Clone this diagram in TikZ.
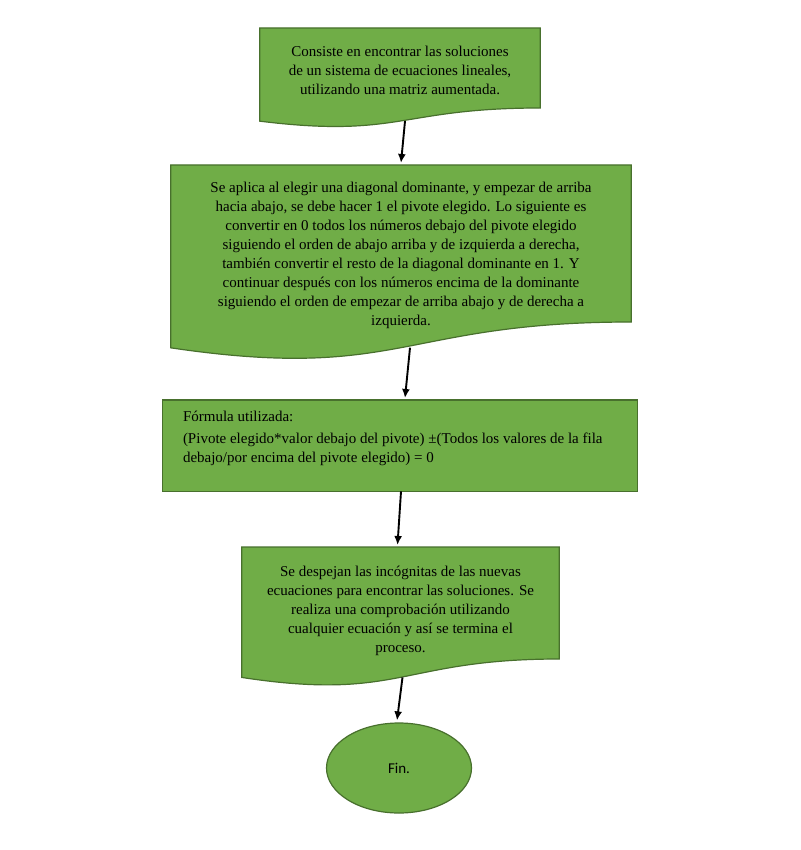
\documentclass[tikz,border=0pt]{standalone}
\usepackage{fontspec}
\setmainfont{Liberation Serif}
\newfontfamily\finfont{Carlito}
\usepackage{tikz}
\usetikzlibrary{calc}
\usetikzlibrary{arrows.meta,shapes.geometric}
\usetikzlibrary{backgrounds}
\definecolor{g}{RGB}{112,173,71}
\definecolor{d}{RGB}{72,112,45}
\tikzstyle{box}=[draw=none,align=center,anchor=north,font=\fontsize{15}{19}\selectfont]
\tikzstyle{frame}=[fill=g,draw=d,line width=1.2pt]
\tikzstyle{flow}=[->,line width=1.9pt]
% document shape: straight part of height #2, wavy bottom
\newcommand{\wavebox}[2]{%
	\path[frame] (#1.north west) -- (#1.north east) -- ($(#1.north east)+(0,#2)$)
		.. controls ($(#1.north)+(0,#2)$) and ($(#1.north)+(0,1.381*#2)$)
		.. ($(#1.north west)+(0,1.1646*#2)$) -- cycle;
	\coordinate (#1-w) at ($(#1.north)+(0,1.1636*#2)$);}

\begin{document}
\begin{tikzpicture}[x=1pt,y=-1pt,>={Latex[length=9pt,width=8pt]}]
	\path[use as bounding box] (0,0) rectangle (800,850);

	\node[box,minimum width=280pt,minimum height=84pt] (b1) at (400,28)
		{Consiste en encontrar las soluciones\\de un sistema de ecuaciones lineales,\\utilizando una matriz aumentada.};
	\node[box,minimum width=460pt,minimum height=180pt] (b2) at (401,165)
		{Se aplica al elegir una diagonal dominante, y empezar de arriba\\
		hacia abajo, se debe hacer 1 el pivote elegido. Lo siguiente es\\
		convertir en 0 todos los números debajo del pivote elegido\\
		siguiendo el orden de abajo arriba y de izquierda a derecha,\\
		también convertir el resto de la diagonal dominante en 1. Y\\
		continuar después con los números encima de la dominante\\
		siguiendo el orden de empezar de arriba abajo y de derecha a\\
		izquierda.};
	\node[box,inner xsep=20pt,inner ysep=11pt,align=left] (b3) at (400,400)
		{\parbox[t][69pt][t]{434pt}{\raggedright Fórmula utilizada:\par\vspace{3pt}
		(Pivote elegido*valor debajo del pivote) ±(Todos los valores de la fila\newline
		debajo/por encima del pivote elegido) = 0}};
	\node[box,minimum width=317pt,minimum height=128pt] (b4) at (400.5,547)
		{Se despejan las incógnitas de las nuevas\\ecuaciones para encontrar las soluciones. Se\\
		realiza una comprobación utilizando\\cualquier ecuación y así se termina el\\proceso.};
	\node[ellipse,frame,minimum width=145pt,minimum height=90pt,inner sep=0pt,
		font=\finfont\fontsize{15}{18}\selectfont] (fin) at (399,768) {Fin.};

	\begin{pgfonlayer}{background}
		\fill[white] (0,0) rectangle (800,850);
		\wavebox{b1}{80}
		\wavebox{b2}{157}
		\path[frame] (b3.north west) rectangle (b3.south east);
		\wavebox{b4}{112}
	\end{pgfonlayer}

	\path[flow]
		([xshift=5pt]b1-w)	edge	([yshift=2pt]b2.north)
		([xshift=9pt]b2-w)	edge	([xshift=5pt,yshift=2pt]b3.north)
		([xshift=1pt]b3.south)	edge	([xshift=-3pt,yshift=2pt]b4.north)
		([xshift=2pt]b4-w)	edge	([xshift=-2pt,yshift=2pt]fin.north);
\end{tikzpicture}
\end{document}
